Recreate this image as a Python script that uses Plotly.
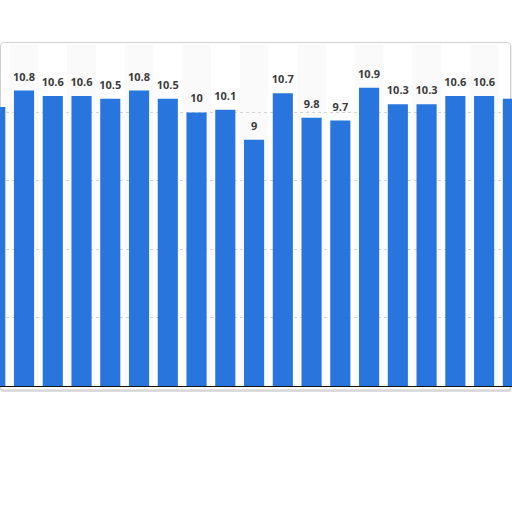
import plotly.graph_objects as go

# bar values, read left to right (first and last bars are cut by the frame)
positions = list(range(19))
values = [10.2, 10.8, 10.6, 10.6, 10.5, 10.8, 10.5, 10, 10.1, 9,
          10.7, 9.8, 9.7, 10.9, 10.3, 10.3, 10.6, 10.6, 10.5]
labels = ["10.2", "10.8", "10.6", "10.6", "10.5", "10.8", "10.5", "10", "10.1", "9",
          "10.7", "9.8", "9.7", "10.9", "10.3", "10.3", "10.6", "10.6", "10.5"]
grid_vals = [2.5, 5, 7.5, 10]

fig = go.Figure()
fig.add_trace(go.Bar(x=positions, y=values, marker_color="#2876dd",
                     marker_line_width=0, hoverinfo="skip"))

# value labels above the bars (invisible markers push the text up a bit,
# and a scatter trace is not dropped when its point sits past the axis edge)
fig.add_trace(go.Scatter(x=positions, y=values, text=labels, mode="markers+text",
                         textposition="top center", cliponaxis=False,
                         marker=dict(size=10, color="rgba(0,0,0,0)"),
                         textfont=dict(family="Open Sans", size=11,
                                       color="#3c3c3c", weight="bold"),
                         hoverinfo="skip"))

# white card with rounded corners + soft shadow
def card(x0, y0, x1, y1, r=0.006):
    ry = r * 512 / 342.5
    return (f"M {x0+r},{y1} L {x1-r},{y1} Q {x1},{y1} {x1},{y1-ry} "
            f"L {x1},{y0+ry} Q {x1},{y0} {x1-r},{y0} L {x0+r},{y0} "
            f"Q {x0},{y0} {x0},{y0+ry} L {x0},{y1-ry} Q {x0},{y1} {x0+r},{y1} Z")

shapes = [
    dict(type="path", xref="paper", yref="paper", path=card(0.0, -0.0175, 0.999, 1.0),
         fillcolor="#dcdcdc", line=dict(width=0), layer="below"),
    dict(type="path", xref="paper", yref="paper", path=card(0.001, -0.0115, 0.997, 1.0045),
         fillcolor="white", line=dict(color="#cfcfcf", width=1), layer="below"),
]
# alternating column bands
for p in positions:
    if p % 2 == 1:
        shapes.append(dict(type="rect", xref="x", yref="paper", x0=p - 0.5, x1=p + 0.5,
                           y0=0, y1=1, fillcolor="#fafafa", line=dict(width=0),
                           layer="below"))

fig.update_layout(
    width=512, height=512,
    margin=dict(l=0, r=0, t=43.5, b=126),
    paper_bgcolor="white", plot_bgcolor="rgba(0,0,0,0)",
    showlegend=False, bargap=0.3, shapes=shapes,
)
fig.update_xaxes(range=[0.165, 17.97], showticklabels=False, ticks="",
                 showgrid=False, zeroline=False, showline=True,
                 linecolor="#111", linewidth=1.2)
fig.update_yaxes(range=[0, 12.5], tickvals=grid_vals, showticklabels=False,
                 showgrid=True, gridcolor="#d4d4d4", griddash="dot", gridwidth=1,
                 zeroline=False)

# page body margin would shift the figure by 8px, drop it
fig.write_html("out.html", config={"displayModeBar": False},
               post_script="document.body.style.margin='0';")
